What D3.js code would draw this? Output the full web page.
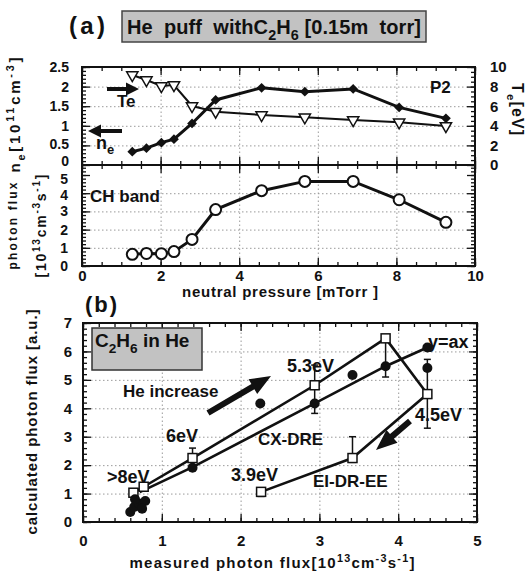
<!DOCTYPE html>
<html>
<head>
<meta charset="utf-8">
<script src="https://cdn.jsdelivr.net/npm/d3@7"></script>
<style>
  body { margin: 0; background: #fff; }
  text { font-family: "Liberation Sans", Arial, sans-serif; font-weight: bold; fill: #111; white-space: pre; }
  .tk .domain, .grid .domain { display: none; }
  .tk line { stroke: #111; stroke-width: 1.3; }
  .tk text { font-size: 15px; font-family: "Liberation Sans", Arial, sans-serif; font-weight: bold; fill: #111; }
  .tk.small text { font-size: 14px; }
  .grid line { stroke: #9a9a9a; stroke-width: 1; stroke-dasharray: 1.5 2.5; }
</style>
</head>
<body>
<svg id="drawing_region"></svg>
<script>
// (a) upper panels: values against neutral pressure [mTorr]
const pressure = [1.28, 1.64, 2.02, 2.34, 2.8, 3.4, 4.57, 5.67, 6.9, 8.07, 9.26];
const density  = [0.34, 0.43, 0.57, 0.66, 1.06, 1.66, 1.97, 1.87, 1.94, 1.47, 1.19];
const tempe    = [9.18, 8.67, 8.06, 8.16, 6.02, 5.44, 5.1, 4.87, 4.59, 4.36, 3.98];
const chBand   = [0.64, 0.69, 0.68, 0.79, 1.46, 3.1, 4.14, 4.65, 4.65, 3.64, 2.4];

// (b) calculated vs measured photon flux
const measured = [0.64, 0.77, 1.39, 2.94, 3.84, 4.37, 3.42, 2.26];
const calcEI   = [1.03, 1.24, 2.25, 4.81, 6.46, 4.5, 2.25, 1.06];
const errLow   = [null, null, 1.95, 3.82, 5.1, 3.3, 2.1, 0.9];
const errHigh  = [null, null, 2.6, 5.52, 6.5, 5.72, 3.0, 1.2];
const dotX = [0.6, 0.65, 0.71, 0.79, 0.66, 0.75, 1.39, 2.25, 2.94, 3.42, 3.84, 4.37, 4.37];
const dotY = [0.35, 0.53, 0.65, 0.74, 0.8, 0.47, 1.91, 4.17, 4.17, 5.17, 5.48, 6.14, 5.42];
const cxX = [0.72, 1.39, 2.94, 3.84, 4.37];
const cxY = [1.05, 1.93, 4.17, 5.48, 6.14];

// tick labels
const pressTicks = [0, 2, 4, 6, 8, 10];
const neTicks = [0, 0.5, 1, 1.5, 2, 2.5];
const neLabels = ['0', '0.5', '1', '1.5', '2', '2.5'];
const teTicks = [0, 2, 4, 6, 8, 10];
const fluxTicks = [0, 1, 2, 3, 4, 5];
const measTicks = [0, 1, 2, 3, 4, 5];
const calcTicks = [0, 1, 2, 3, 4, 5, 6, 7];

const svg = d3.select('#drawing_region').attr('width', 529).attr('height', 573);

function range(a, b, s) { return d3.range(a, b + s / 2, s); }

function panel(left, top) {
    return svg.append('g').attr('transform', `translate(${left},${top})`);
}

function grid(g, xs, ys, xv, yv) {
    const w = xs.range()[1], h = ys.range()[0];
    g.append('g').attr('class', 'grid').attr('transform', `translate(0,${h})`)
        .call(d3.axisBottom(xs).tickValues(xv).tickSize(-h).tickFormat(''));
    g.append('g').attr('class', 'grid')
        .call(d3.axisLeft(ys).tickValues(yv).tickSize(-w).tickFormat(''));
}

// inward ticks, minor + major, optional labels
function ticks(g, axisFn, scale, major, minor, shift, fmt, pad) {
    g.append('g').attr('class', 'tk').attr('transform', shift)
        .call(axisFn(scale).tickValues(minor).tickSize(-4).tickFormat(''));
    return g.append('g').attr('class', 'tk').attr('transform', shift)
        .call(axisFn(scale).tickValues(major).tickSize(-8).tickPadding(pad || 3).tickFormat(fmt || ''));
}

function frame(g, w, h) {
    g.append('rect').attr('width', w).attr('height', h)
        .attr('fill', 'none').attr('stroke', '#111').attr('stroke-width', 2);
}

function rich(sel, parts, size) {
    let shift = 0;
    parts.forEach(([t, m]) => {
        const target = m === 'sub' ? size * 0.3 : m === 'sup' ? -size * 0.4 : 0;
        sel.append('tspan').attr('dy', target - shift)
            .attr('font-size', m ? size * 0.72 : size).text(t);
        shift = target;
    });
    return sel;
}

function label(x, y, parts, size, opt) {
    opt = opt || {};
    const t = svg.append('text').attr('x', 0).attr('y', 0)
        .attr('transform', `translate(${x},${y}) rotate(${opt.rot || 0})`)
        .attr('text-anchor', opt.anchor || 'start');
    if (opt.len) t.attr('textLength', opt.len).attr('lengthAdjust', 'spacing');
    return rich(t, typeof parts === 'string' ? [[parts]] : parts, size);
}

function arrow(x0, y0, x1, y1, sw, hl, hw) {
    const L = Math.hypot(x1 - x0, y1 - y0), ux = (x1 - x0) / L, uy = (y1 - y0) / L;
    const nx = -uy, ny = ux, bx = x1 - ux * hl, by = y1 - uy * hl;
    const pts = [
        [x0 + nx * sw / 2, y0 + ny * sw / 2], [bx + nx * sw / 2, by + ny * sw / 2],
        [bx + nx * hw / 2, by + ny * hw / 2], [x1, y1],
        [bx - nx * hw / 2, by - ny * hw / 2], [bx - nx * sw / 2, by - ny * sw / 2],
        [x0 - nx * sw / 2, y0 - ny * sw / 2]];
    svg.append('path').attr('d', d3.line()(pts) + 'Z').attr('fill', '#111');
}

// ---------- upper panel : ne and Te ----------
const W = 393, hTop = 98, hMid = 101;
const xP = d3.scaleLinear().domain([0, 10]).range([0, W]);
const yNe = d3.scaleLinear().domain([0, 2.5]).range([hTop, 0]);
const yTe = d3.scaleLinear().domain([0, 10]).range([hTop, 0]);

const upper = panel(82, 67);
grid(upper, xP, yNe, [2, 4, 6, 8], [0.5, 1, 1.5, 2]);
ticks(upper, d3.axisTop, xP, pressTicks, range(0, 10, 0.5), null);
ticks(upper, d3.axisBottom, xP, pressTicks, range(0, 10, 0.5), `translate(0,${hTop})`);
// the stacked "0" / "5" labels at the panel join are squeezed a little apart
const neLeft = ticks(upper, d3.axisLeft, yNe, neTicks, range(0, 2.5, 0.1), null, (d, i) => neLabels[i], 13)
    .classed('small', true);
neLeft.selectAll('text').filter(d => d === 0).attr('dy', '0em');
neLeft.selectAll('text').filter(d => d === 0.5).attr('dy', '0.25em');
ticks(upper, d3.axisRight, yTe, teTicks, range(0, 10, 0.5), `translate(${W},0)`, d => d, 15);

upper.append('path')
    .attr('d', d3.line().x((d, i) => xP(pressure[i])).y(d => yTe(d))(tempe))
    .attr('fill', 'none').attr('stroke', '#111').attr('stroke-width', 2);
upper.append('path')
    .attr('d', d3.line().x((d, i) => xP(pressure[i])).y(d => yNe(d))(density))
    .attr('fill', 'none').attr('stroke', '#111').attr('stroke-width', 3);
upper.selectAll('.tri').data(tempe).join('path')
    .attr('d', d3.symbol(d3.symbolTriangle, 55))
    .attr('transform', (d, i) => `translate(${xP(pressure[i])},${yTe(d)}) rotate(180)`)
    .attr('fill', '#fff').attr('stroke', '#111').attr('stroke-width', 1.5);
upper.selectAll('.dia').data(density).join('path')
    .attr('d', d3.symbol(d3.symbolSquare, 48))
    .attr('transform', (d, i) => `translate(${xP(pressure[i])},${yNe(d)}) rotate(45)`)
    .attr('fill', '#111');
frame(upper, W, hTop);

// ---------- middle panel : CH band ----------
const yCH = d3.scaleLinear().domain([0, 5.55]).range([hMid, 0]);
const mid = panel(82, 165);
grid(mid, xP, yCH, [2, 4, 6, 8], [1, 2, 3, 4]);
ticks(mid, d3.axisTop, xP, pressTicks, range(0, 10, 0.5), null);
ticks(mid, d3.axisBottom, xP, pressTicks, range(0, 10, 0.5), `translate(0,${hMid})`, d => d, 4);
const chLeft = ticks(mid, d3.axisLeft, yCH, fluxTicks, range(0, 5.4, 0.2), null, d => d, 14)
    .classed('small', true);
chLeft.selectAll('text').filter(d => d === 5).attr('dy', '0.58em');
chLeft.selectAll('text').filter(d => d === 4).attr('dy', '0.42em');
ticks(mid, d3.axisRight, yCH, fluxTicks, range(0, 5.4, 0.2), `translate(${W},0)`);

mid.append('path')
    .attr('d', d3.line().x((d, i) => xP(pressure[i])).y(d => yCH(d))(chBand))
    .attr('fill', 'none').attr('stroke', '#111').attr('stroke-width', 3);
mid.selectAll('circle').data(chBand).join('circle')
    .attr('cx', (d, i) => xP(pressure[i])).attr('cy', d => yCH(d)).attr('r', 5.5)
    .attr('fill', '#fff').attr('stroke', '#111').attr('stroke-width', 2);
frame(mid, W, hMid);

// ---------- bottom panel : (b) ----------
const bw = 394, bh = 199;
const xM = d3.scaleLinear().domain([0, 5]).range([0, bw]);
const yC = d3.scaleLinear().domain([0, 7]).range([bh, 0]);
const bot = panel(83, 323);
grid(bot, xM, yC, [1, 2, 3, 4], [1, 2, 3, 4, 5, 6]);
ticks(bot, d3.axisTop, xM, measTicks, range(0, 5, 0.2), null);
ticks(bot, d3.axisBottom, xM, measTicks, range(0, 5, 0.2), `translate(0,${bh})`, d => d, 13);
ticks(bot, d3.axisLeft, yC, calcTicks, range(0, 7, 0.2), null, d => d, 11);
ticks(bot, d3.axisRight, yC, calcTicks, range(0, 7, 0.2), `translate(${bw},0)`);

bot.append('rect').attr('x', 9).attr('y', 5).attr('width', 110).attr('height', 42)
    .attr('fill', '#c2c2c2').attr('stroke', '#333').attr('stroke-width', 1.5);

bot.append('path')
    .attr('d', d3.line().x((d, i) => xM(measured[i])).y(d => yC(d))(calcEI))
    .attr('fill', 'none').attr('stroke', '#111').attr('stroke-width', 2.6);
bot.append('path')
    .attr('d', d3.line().x((d, i) => xM(cxX[i])).y(d => yC(d))(cxY))
    .attr('fill', 'none').attr('stroke', '#111').attr('stroke-width', 2.6);

const bars = bot.selectAll('.err').data(measured.map((m, i) => ({ m, lo: errLow[i], hi: errHigh[i] }))
    .filter(d => d.lo !== null)).join('g');
bars.append('line').attr('x1', d => xM(d.m)).attr('x2', d => xM(d.m))
    .attr('y1', d => yC(d.lo)).attr('y2', d => yC(d.hi)).attr('stroke', '#111').attr('stroke-width', 1.5);
['lo', 'hi'].forEach(k => bars.append('line')
    .attr('x1', d => xM(d.m) - 3.5).attr('x2', d => xM(d.m) + 3.5)
    .attr('y1', d => yC(d[k])).attr('y2', d => yC(d[k])).attr('stroke', '#111').attr('stroke-width', 1.5));

bot.selectAll('.sq').data(calcEI).join('rect')
    .attr('x', (d, i) => xM(measured[i]) - 4.5).attr('y', d => yC(d) - 4.5)
    .attr('width', 9).attr('height', 9)
    .attr('fill', '#fff').attr('stroke', '#111').attr('stroke-width', 1.5);
bot.selectAll('.dot').data(dotY).join('circle')
    .attr('cx', (d, i) => xM(dotX[i])).attr('cy', d => yC(d)).attr('r', 5)
    .attr('fill', '#111');
frame(bot, bw, bh);

// ---------- texts ----------
svg.append('rect').attr('x', 122).attr('y', 11).attr('width', 304).attr('height', 31)
    .attr('fill', '#c2c2c2').attr('stroke', '#444').attr('stroke-width', 1.5);
label(69, 34, '(a)', 24, { len: 36 });
label(127, 34, [['He  puff  withC'], ['2', 'sub'], ['H'], ['6', 'sub'], [' [0.15m  torr]']], 20, { len: 294 });
label(85, 312, '(b)', 22, { len: 32 });

label(430, 93, 'P2', 17);
label(117, 107, 'Te', 17);
label(96, 149, [['n'], ['e', 'sub']], 18);
label(90, 202, 'CH band', 17);
arrow(107, 89, 139, 89, 4, 13, 13);
arrow(122, 131, 88, 131, 4, 13, 13);

label(280, 297, 'neutral pressure [mTorr ]', 15, { anchor: 'middle', len: 196 });
label(20, 115, [['n'], ['e', 'sub'], ['[10'], ['11', 'sup'], ['cm'], ['-3', 'sup'], [']']], 15, { anchor: 'middle', rot: -90, len: 115 });
label(17, 226, 'photon flux', 12, { anchor: 'middle', rot: -90, len: 87 });
label(46, 226, [['[10'], ['13', 'sup'], ['cm'], ['-3', 'sup'], ['s'], ['-1', 'sup'], [']']], 14, { anchor: 'middle', rot: -90, len: 103 });
label(512, 109, [['T'], ['e', 'sub'], ['[eV]']], 16, { anchor: 'middle', rot: 90, len: 52 });

label(95, 347, [['C'], ['2', 'sub'], ['H'], ['6', 'sub'], [' in He']], 19);
label(123, 397, 'He increase', 17);
label(287, 372, '5.3eV', 18);
label(428, 348, 'y=ax', 18);
label(415, 421, '4.5eV', 18);
label(166, 442, '6eV', 18);
label(258, 445, 'CX-DRE', 17);
label(107, 483, '>8eV', 18);
label(231, 481, '3.9eV', 18);
label(313, 487, 'EI-DR-EE', 17);
arrow(208, 413, 271, 376, 6, 21, 17);
arrow(410, 421, 376, 450, 6, 21, 17);

label(37, 422, 'calculated photon flux [a.u.]', 15, { anchor: 'middle', rot: -90, len: 225 });
label(272, 568, [['measured photon flux[10'], ['13', 'sup'], ['cm'], ['-3', 'sup'], ['s'], ['-1', 'sup'], [']']], 15, { anchor: 'middle', len: 285 });
</script>
</body>
</html>
